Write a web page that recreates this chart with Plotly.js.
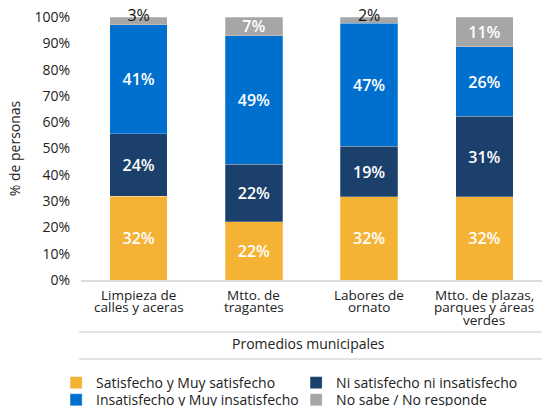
<!DOCTYPE html>
<html><head><meta charset="utf-8">
<script src="https://cdn.plot.ly/plotly-3.0.1.min.js"></script>
<style>html,body{margin:0;padding:0;background:#fff}#chart{width:542px;height:406px}</style>
</head><body><div id="chart"></div>
<script>
var categories = ["Limpieza de<br>calles y aceras", "Mtto. de<br>tragantes", "Labores de<br>ornato", "Mtto. de plazas,<br>parques y áreas<br>verdes"];
var satisfecho = [31.9, 22.2, 31.6, 31.6];
var neutral = [23.7, 21.8, 19.2, 30.6];
var insatisfecho = [41.4, 48.9, 46.8, 26.4];
var noSabe = [3.0, 7.1, 2.4, 11.4];
var seriesNames = ["Satisfecho y Muy satisfecho", "Ni satisfecho ni insatisfecho", "Insatisfecho y Muy insatisfecho", "No sabe / No responde"];
var yTicks = [0,10,20,30,40,50,60,70,80,90,100];

var FONT = "Open Sans, sans-serif";
var TXT = "#222";
var colors = ["#F4B335", "#1B406C", "#0070CF", "#A6A6A6"];
var series = [satisfecho, neutral, insatisfecho, noSabe];
var legendOf = ["legend", "legend", "legend2", "legend2"];

function lbl(arr, minV){ return arr.map(function(v){ return v >= minV ? Math.round(v) + "%" : ""; }); }

var traces = series.map(function(arr, i){
  return {
    type: "bar", x: categories, y: arr, name: seriesNames[i], legend: legendOf[i],
    marker: {color: colors[i], line: {color: "rgba(255,255,255,0.5)", width: 0.5}},
    text: lbl(arr, 5), textposition: "inside", insidetextanchor: "middle",
    textfont: {family: FONT, size: 16, color: "#ffffff", weight: 600},
    hoverinfo: "none", constraintext: "none"
  };
});
var totals = categories.map(function(c, j){ return satisfecho[j] + neutral[j] + insatisfecho[j] + noSabe[j]; });
traces.push({
  type: "scatter", mode: "text", x: categories, y: totals,
  text: noSabe.map(function(v){ return v < 5 ? Math.round(v) + "%" : ""; }),
  textposition: "middle center", textfont: {family: FONT, size: 16, color: "#111"},
  showlegend: false, hoverinfo: "none", cliponaxis: false
});

// category labels, one annotation per line (tight line spacing)
var annotations = [];
categories.forEach(function(c, j){
  c.split("<br>").forEach(function(line, k){
    annotations.push({text: line, xref: "x", yref: "y", x: j, y: 0, yanchor: "middle", xanchor: "center",
      yshift: -(15 + 12.3 * k), showarrow: false, font: {size: 13.5, color: TXT}});
  });
});
annotations.push({text: "Promedios municipales", xref: "paper", yref: "paper", x: 0.493, y: -0.243,
  xanchor: "center", yanchor: "middle", showarrow: false, font: {size: 14, color: TXT}});

var legendBase = {orientation: "h", xanchor: "left", yanchor: "top", entrywidth: 195, traceorder: "normal",
  font: {size: 14, color: TXT}, itemwidth: 30, bgcolor: "rgba(0,0,0,0)"};

var layout = {
  width: 542, height: 406,
  margin: {l: 81, r: 0, t: 17, b: 126, autoexpand: false},
  barmode: "stack", bargap: 0.5,
  font: {family: FONT, color: TXT, size: 14},
  paper_bgcolor: "#fff", plot_bgcolor: "#fff",
  xaxis: {showline: true, linecolor: "#dcdcdc", linewidth: 2, ticks: "", showticklabels: false, fixedrange: true, automargin: false},
  yaxis: {range: [0, 100], tickvals: yTicks, ticktext: yTicks.map(function(t){return t + "%";}), showgrid: false, zeroline: false, automargin: false,
          ticklabelstandoff: 10,
          tickfont: {size: 14, color: TXT}, title: {text: "% de personas", font: {size: 14, color: TXT}, standoff: 10}},
  showlegend: true,
  legend: Object.assign({}, legendBase, {x: -0.054, y: -0.331}),
  legend2: Object.assign({}, legendBase, {x: -0.054, y: -0.396}),
  shapes: [
    {type: "line", xref: "paper", yref: "paper", x0: -0.004, x1: 1, y0: -0.198, y1: -0.198, line: {color: "#d9d9d9", width: 1.5}},
    {type: "line", xref: "paper", yref: "paper", x0: -0.004, x1: 1, y0: -0.300, y1: -0.300, line: {color: "#d9d9d9", width: 1.5}}
  ],
  annotations: annotations
};
Plotly.newPlot("chart", traces, layout, {displayModeBar: false, staticPlot: true});
</script></body></html>
